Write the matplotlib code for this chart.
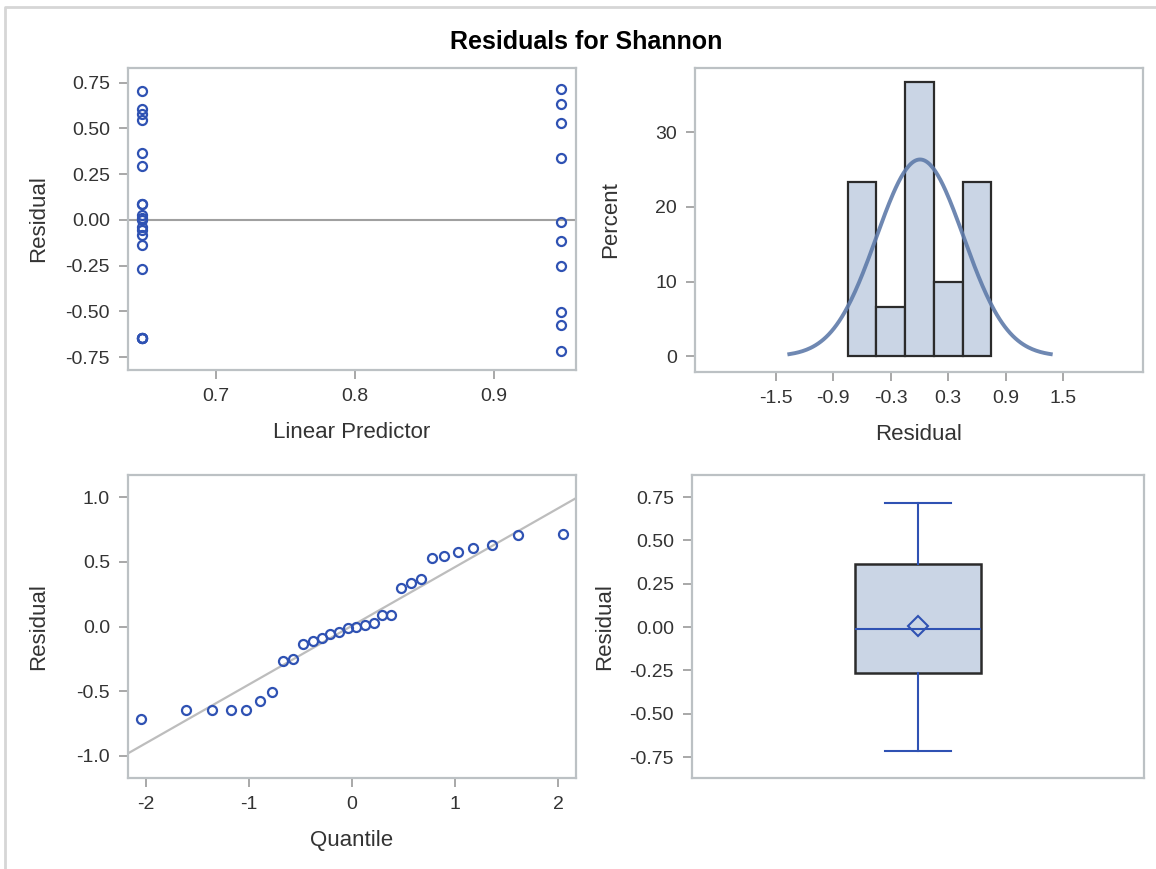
import numpy as np
import matplotlib
matplotlib.use('Agg')
import matplotlib.pyplot as plt
from matplotlib.lines import Line2D
from statistics import NormalDist

plt.rcParams['font.family'] = ['Liberation Sans', 'DejaVu Sans']
plt.rcParams['axes.unicode_minus'] = False

# residuals of the two-group Shannon model, with the linear predictor of each group
pred_lo = 0.647
pred_hi = 0.948
resid_lo = [0.703, 0.605, 0.579, 0.545, 0.364, 0.295, 0.085, 0.085, 0.028, 0.013,
            0.000, -0.041, -0.057, -0.085, -0.137, -0.266, -0.646, -0.646, -0.646, -0.646]
resid_hi = [0.716, 0.633, 0.532, 0.336, -0.013, -0.114, -0.253, -0.504, -0.576, -0.716]

hist_edges = [-0.75, -0.45, -0.15, 0.15, 0.45, 0.75]
hist_ticks = [-1.5, -0.9, -0.3, 0.3, 0.9, 1.5]
resid_ticks = [-0.75, -0.5, -0.25, 0.0, 0.25, 0.5, 0.75]
pred_ticks = [0.7, 0.8, 0.9]
pct_ticks = [0, 10, 20, 30]
qq_xticks = [-2, -1, 0, 1, 2]
qq_yticks = [-1.0, -0.5, 0.0, 0.5, 1.0]

resid = np.array(resid_lo + resid_hi)
pred = np.array([pred_lo] * len(resid_lo) + [pred_hi] * len(resid_hi))
n = len(resid)
mu = resid.mean()
sd = resid.std(ddof=1)

MARK = '#2F52B3'
FILL = '#CAD5E5'
FRAME = '#BCC1C4'
TXT = '#333333'
LBL = 16

W, H = 1156, 869
fig = plt.figure(figsize=(W / 100, H / 100), dpi=100)

def panel(l, t, r, b):
    ax = fig.add_axes([l / W, 1 - b / H, (r - l) / W, (b - t) / H])
    for s in ax.spines.values():
        s.set_color(FRAME)
        s.set_linewidth(1.6)
    ax.tick_params(colors='#9A9A9A', labelcolor=TXT, labelsize=14, length=6.5, width=1.2, pad=6.5)
    return ax

# outer border of the panel
fig.add_artist(Line2D([5 / W, 5 / W, 1], [0, 1 - 7 / H, 1 - 7 / H], color='#D6D6D6', lw=2))

fig.text(586 / W, 1 - 42 / H, 'Residuals for Shannon', ha='center', va='center',
         fontsize=18, fontweight='bold', color='black')

# residual vs linear predictor
ax1 = panel(128, 68, 576, 370)
ax1.axhline(0, color='#A0A0A0', lw=1.5, zorder=1)
ax1.plot(pred, resid, 'o', mfc='none', mec=MARK, ms=6.5, mew=1.6, zorder=3)
ax1.set_xlim(0.637, 0.959)
ax1.set_ylim(-0.82, 0.83)
ax1.set_xticks(pred_ticks)
ax1.set_xticklabels(['%.1f' % v for v in pred_ticks])
ax1.set_yticks(resid_ticks)
ax1.set_yticklabels(['%.2f' % v for v in resid_ticks])
ax1.set_xlabel('Linear Predictor', fontsize=LBL, color=TXT)
ax1.set_ylabel('Residual', fontsize=LBL, color=TXT)
ax1.xaxis.set_label_coords(0.5, -0.172)
ax1.yaxis.set_label_coords(-0.176, 0.5)

# histogram with normal density
ax2 = panel(695, 68, 1143, 372)
ax2.hist(resid, bins=hist_edges, weights=np.full(n, 100.0 / n), color=FILL,
         edgecolor='#2B2B2B', linewidth=1.6, zorder=2)
bw = hist_edges[1] - hist_edges[0]
xs = np.linspace(mu - 3 * sd, mu + 3 * sd, 200)
nd = NormalDist(mu, sd)
ax2.plot(xs, [100 * bw * nd.pdf(v) for v in xs], color='#5F7BAA', lw=2.8, alpha=0.9, zorder=3)
ax2.set_xlim(-2.34, 2.33)
ax2.set_ylim(-2.1, 38.6)
ax2.set_xticks(hist_ticks)
ax2.set_xticklabels(['%.1f' % v for v in hist_ticks])
ax2.set_yticks(pct_ticks)
ax2.set_xlabel('Residual', fontsize=LBL, color=TXT)
ax2.set_ylabel('Percent', fontsize=LBL, color=TXT)
ax2.xaxis.set_label_coords(0.5, -0.171)
ax2.yaxis.set_label_coords(-0.165, 0.5)

# normal quantile plot (Blom scores)
ax3 = panel(128, 475, 576, 778)
srt = np.sort(resid)
q = [NormalDist().inv_cdf((i - 0.375) / (n + 0.25)) for i in range(1, n + 1)]
lim = np.array([-2.17, 2.17])
ax3.plot(lim, mu + sd * lim, color='#BDBDBD', lw=1.6, zorder=1)
ax3.plot(q, srt, 'o', mfc='none', mec=MARK, ms=6.5, mew=1.6, zorder=3)
ax3.set_xlim(*lim)
ax3.set_ylim(-1.17, 1.17)
ax3.set_xticks(qq_xticks)
ax3.set_yticks(qq_yticks)
ax3.set_yticklabels(['%.1f' % v for v in qq_yticks])
ax3.set_xlabel('Quantile', fontsize=LBL, color=TXT)
ax3.set_ylabel('Residual', fontsize=LBL, color=TXT)
ax3.xaxis.set_label_coords(0.5, -0.172)
ax3.yaxis.set_label_coords(-0.176, 0.5)

# box plot
ax4 = panel(692, 475, 1144, 778)
stats = [dict(med=np.percentile(resid, 50, method='inverted_cdf'),
              q1=np.percentile(resid, 25, method='inverted_cdf'),
              q3=np.percentile(resid, 75, method='inverted_cdf'),
              whislo=resid.min(), whishi=resid.max(), mean=mu, fliers=[])]
ax4.bxp(stats, positions=[1.0], widths=0.56, capwidths=0.29, patch_artist=True, showmeans=True,
        boxprops=dict(facecolor=FILL, edgecolor='#2B2B2B', linewidth=1.8),
        whiskerprops=dict(color=MARK, linewidth=1.5),
        capprops=dict(color=MARK, linewidth=1.5),
        medianprops=dict(color=MARK, linewidth=1.5),
        meanprops=dict(marker='D', mfc='none', mec=MARK, ms=10, mew=1.5))
ax4.set_xlim(0, 2)
ax4.set_ylim(-0.871, 0.877)
ax4.set_xticks([])
ax4.set_yticks(resid_ticks)
ax4.set_yticklabels(['%.2f' % v for v in resid_ticks])
ax4.set_ylabel('Residual', fontsize=LBL, color=TXT)
ax4.yaxis.set_label_coords(-0.170, 0.5)

fig.savefig('out.png', dpi=100)
